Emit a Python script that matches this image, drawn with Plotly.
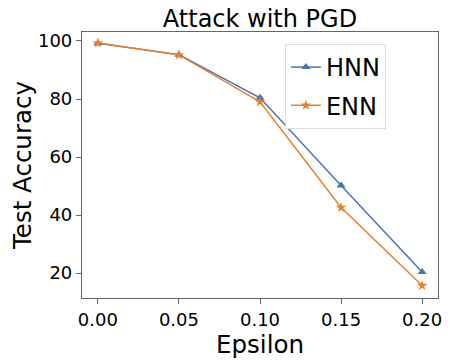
import plotly.graph_objects as go

epsilon = [0.0, 0.05, 0.10, 0.15, 0.20]
hnn_acc = [99.2, 95.3, 80.4, 50.2, 20.4]
enn_acc = [99.3, 95.2, 79.0, 42.6, 15.7]

font = "DejaVu Sans"

fig = go.Figure()
fig.add_trace(go.Scatter(
    x=epsilon, y=hnn_acc, name="HNN", mode="lines+markers",
    line=dict(color="#4c72b0", width=1.5),
    marker=dict(symbol="triangle-up", size=8, color="#4c72b0"),
    legendgroup="a",
))
fig.add_trace(go.Scatter(
    x=epsilon, y=enn_acc, name="ENN", mode="lines+markers",
    line=dict(color="#e8812b", width=1.5),
    marker=dict(symbol="star", size=8, color="#e8812b"),
    legendgroup="b",
))

axis_style = dict(
    showgrid=False, zeroline=False, showline=True, mirror=True,
    linecolor="#666666", linewidth=1.2, automargin=False,
    ticks="outside", ticklen=5, tickwidth=1.2, tickcolor="#666666",
    tickfont=dict(size=18, color="black", family=font),
)

# page body has an 8px margin, so the figure is offset by 8px
fig.update_layout(
    width=443, height=353,
    margin=dict(l=74, r=13, t=24, b=63),
    plot_bgcolor="white", paper_bgcolor="white",
    font=dict(family=font, color="black"),
    title=dict(text="Attack with PGD", x=0.5, xref="paper", xanchor="center",
               y=1, yref="paper", yanchor="bottom", pad=dict(b=5),
               font=dict(size=24, family=font, color="black")),
    xaxis=dict(range=[-0.0098, 0.2098], tickvals=epsilon,
               ticktext=["0.00", "0.05", "0.10", "0.15", "0.20"],
               title=dict(text="Epsilon", font=dict(size=24.5), standoff=2),
               **axis_style),
    yaxis=dict(range=[11.4, 103.1], tickvals=[20, 40, 60, 80, 100],
               title=dict(text="Test Accuracy", font=dict(size=24.5), standoff=6),
               **axis_style),
    legend=dict(x=0.57, y=0.955, xanchor="left", yanchor="top",
                bordercolor="#dddddd", borderwidth=1, bgcolor="white",
                font=dict(size=24, family=font), tracegroupgap=4,
                traceorder="grouped", entrywidth=95, entrywidthmode="pixels"),
    showlegend=True,
)

fig.write_html("out.html")
